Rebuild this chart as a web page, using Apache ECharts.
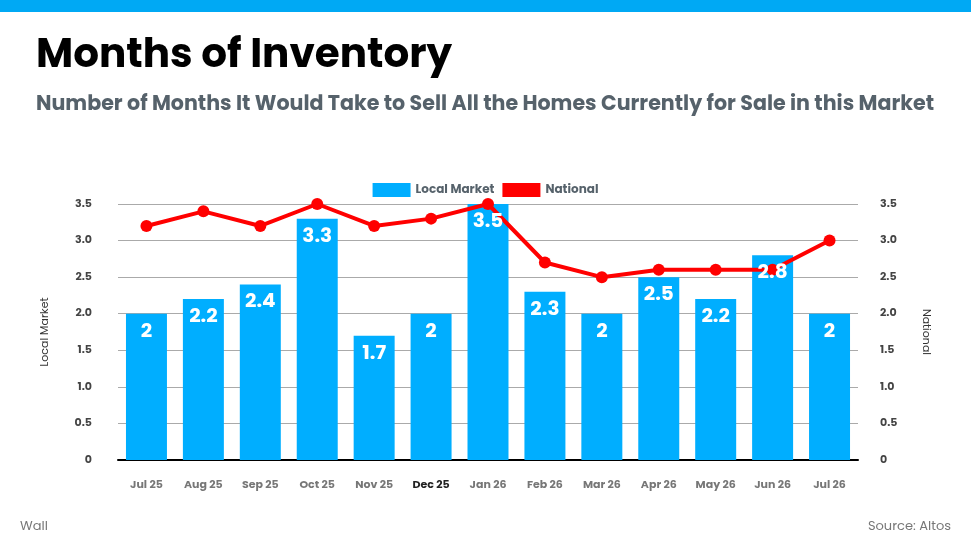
<!DOCTYPE html>
<html>
<head>
<meta charset="utf-8">
<script src="https://cdn.jsdelivr.net/npm/echarts@6/dist/echarts.min.js"></script>
<style>
  html, body { margin: 0; padding: 0; background: #fff; }
  #main { width: 971px; height: 546px; }
</style>
</head>
<body>
<div id="main"></div>
<script>
// 数据
const months = ['Jul 25', 'Aug 25', 'Sep 25', 'Oct 25', 'Nov 25', 'Dec 25', 'Jan 26', 'Feb 26', 'Mar 26', 'Apr 26', 'May 26', 'Jun 26', 'Jul 26'];
const localMarket = [2, 2.2, 2.4, 3.3, 1.7, 2, 3.5, 2.3, 2, 2.5, 2.2, 2.8, 2];
const national = [3.2, 3.4, 3.2, 3.5, 3.2, 3.3, 3.5, 2.7, 2.5, 2.6, 2.6, 2.6, 3.0];
const yTicks = [0, 0.5, 1.0, 1.5, 2.0, 2.5, 3.0, 3.5];

const font = 'Poppins, Inter, "Noto Sans", sans-serif';
const chart = echarts.init(document.getElementById('main'));

function tickLabel(v) {
  return v === 0 ? '0' : v.toFixed(1);
}

chart.setOption({
  animation: false,
  textStyle: {fontFamily: font},
  graphic: [
    {type: 'rect', left: 0, top: 0, shape: {width: 971, height: 12}, style: {fill: '#00A9F4'}},
    {type: 'text', left: 36, top: 36, style: {text: 'Months of Inventory', font: 'bold 40.5px ' + font, fill: '#000'}},
    {type: 'text', left: 36, top: 94, style: {text: 'Number of Months It Would Take to Sell All the Homes Currently for Sale in this Market', font: 'bold 20.6px ' + font, fill: '#56626b'}},
    {type: 'text', left: 20, top: 520, style: {text: 'Wall', font: '13px ' + font, fill: '#777'}},
    {type: 'text', right: 20, top: 520, style: {text: 'Source: Altos', font: '13px ' + font, fill: '#777'}}
  ],
  legend: {
    top: 178,
    left: 'center',
    itemWidth: 38,
    itemHeight: 14,
    itemGap: 8,
    icon: 'rect',
    textStyle: {fontSize: 12, fontWeight: 'bold', color: '#56626b', fontFamily: font},
    data: [
      {name: 'Local Market', icon: 'rect'},
      {name: 'National', icon: 'rect', itemStyle: {color: '#ff0000'}}
    ]
  },
  grid: {left: 118, right: 113, top: 204, bottom: 86},
  xAxis: {
    type: 'category',
    data: months,
    axisLine: {lineStyle: {color: '#000', width: 2}},
    axisTick: {show: false},
    axisLabel: {
      interval: 0,
      margin: 20,
      fontSize: 11,
      fontWeight: 'bold',
      color: '#777',
      formatter: (v) => v === 'Dec 25' ? '{d|' + v + '}' : v,
      rich: {d: {color: '#222', fontSize: 11, fontWeight: 'bold', fontFamily: font}}
    }
  },
  yAxis: [
    {
      type: 'value', min: 0, max: 3.5, interval: 0.5,
      name: 'Local Market', nameLocation: 'middle', nameGap: 67, nameRotate: 90,
      nameTextStyle: {fontSize: 11, color: '#333'},
      axisLine: {show: false}, axisTick: {show: false},
      axisLabel: {margin: 26, fontSize: 11, fontWeight: 'bold', color: '#444', formatter: tickLabel},
      splitLine: {lineStyle: {color: '#aaa', width: 1}}
    },
    {
      type: 'value', min: 0, max: 3.5, interval: 0.5,
      name: 'National', nameLocation: 'middle', nameGap: 62, nameRotate: -90,
      nameTextStyle: {fontSize: 11, color: '#333'},
      axisLine: {show: false}, axisTick: {show: false},
      axisLabel: {margin: 22, fontSize: 11, fontWeight: 'bold', color: '#444', formatter: tickLabel},
      splitLine: {show: false}
    }
  ],
  series: [
    {
      name: 'Local Market',
      type: 'bar',
      data: localMarket,
      barWidth: '72%',
      itemStyle: {color: '#00AEFF'},
      z: 2
    },
    {
      name: 'National',
      type: 'line',
      yAxisIndex: 1,
      data: national,
      color: '#ff0000',
      symbol: 'circle',
      symbolSize: 12,
      lineStyle: {width: 4, color: '#ff0000'},
      itemStyle: {color: '#ff0000'},
      z: 3
    },
    {
      // 数值标签放在折线之上
      name: 'labels',
      type: 'bar',
      data: localMarket,
      barWidth: '72%',
      barGap: '-100%',
      itemStyle: {color: 'rgba(0,0,0,0)'},
      label: {
        show: true,
        position: 'insideTop',
        distance: 8,
        color: '#fff',
        fontSize: 20,
        fontWeight: 'bold',
        fontFamily: font
      },
      silent: true,
      z: 4
    }
  ]
});
</script>
</body>
</html>
